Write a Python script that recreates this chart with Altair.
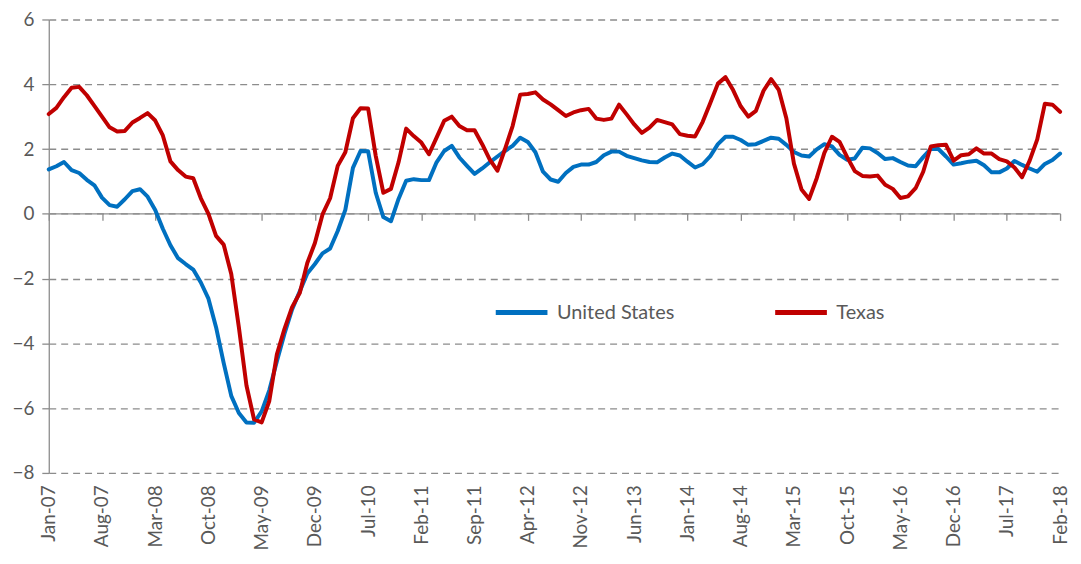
import altair as alt
import pandas as pd

tick_labels = ["Jan-07", "Aug-07", "Mar-08", "Oct-08", "May-09", "Dec-09", "Jul-10",
               "Feb-11", "Sep-11", "Apr-12", "Nov-12", "Jun-13", "Jan-14", "Aug-14",
               "Mar-15", "Oct-15", "May-16", "Dec-16", "Jul-17", "Feb-18"]

series_names = ["United States", "Texas"]

us = [1.37, 1.47, 1.60, 1.35, 1.26, 1.05, 0.88, 0.50, 0.27, 0.22,
      0.45, 0.70, 0.76, 0.53, 0.12, -0.46, -0.97, -1.37, -1.55, -1.72,
      -2.12, -2.62, -3.50, -4.60, -5.62, -6.15, -6.44, -6.45, -6.10, -5.45,
      -4.55, -3.70, -2.95, -2.40, -1.84, -1.55, -1.22, -1.07, -0.53, 0.12,
      1.42, 1.94, 1.93, 0.65, -0.10, -0.23, 0.46, 1.02, 1.07, 1.04,
      1.04, 1.59, 1.94, 2.10, 1.74, 1.48, 1.23, 1.40, 1.59, 1.77,
      1.94, 2.10, 2.35, 2.22, 1.90, 1.30, 1.06, 0.99, 1.26, 1.45,
      1.52, 1.52, 1.60, 1.81, 1.92, 1.92, 1.79, 1.72, 1.65, 1.60,
      1.59, 1.74, 1.86, 1.80, 1.61, 1.43, 1.53, 1.78, 2.15, 2.38,
      2.38, 2.28, 2.13, 2.15, 2.25, 2.35, 2.32, 2.13, 1.91, 1.80,
      1.77, 1.99, 2.15, 2.08, 1.82, 1.67, 1.71, 2.04, 2.02, 1.88,
      1.69, 1.72, 1.60, 1.49, 1.47, 1.75, 2.01, 2.00, 1.77, 1.52,
      1.56, 1.61, 1.64, 1.50, 1.28, 1.28, 1.40, 1.63, 1.51, 1.40,
      1.30, 1.54, 1.66, 1.86]

tx = [3.08, 3.27, 3.60, 3.89, 3.92, 3.66, 3.33, 3.00, 2.67, 2.54,
      2.56, 2.82, 2.96, 3.11, 2.88, 2.42, 1.62, 1.35, 1.15, 1.10,
      0.48, 0.00, -0.68, -0.95, -1.86, -3.50, -5.30, -6.35, -6.44, -5.78,
      -4.34, -3.55, -2.88, -2.45, -1.52, -0.90, -0.02, 0.48, 1.48, 1.90,
      2.95, 3.26, 3.25, 1.79, 0.65, 0.77, 1.59, 2.63, 2.40, 2.20,
      1.84, 2.35, 2.87, 3.00, 2.71, 2.58, 2.58, 2.15, 1.67, 1.33,
      2.00, 2.71, 3.68, 3.70, 3.75, 3.53, 3.38, 3.20, 3.02, 3.13,
      3.20, 3.24, 2.94, 2.90, 2.94, 3.37, 3.07, 2.76, 2.50, 2.66,
      2.90, 2.83, 2.76, 2.46, 2.41, 2.39, 2.84, 3.42, 4.02, 4.22,
      3.82, 3.32, 3.00, 3.18, 3.80, 4.16, 3.83, 2.95, 1.55, 0.75,
      0.46, 1.10, 1.88, 2.38, 2.22, 1.75, 1.32, 1.17, 1.15, 1.18,
      0.90, 0.77, 0.49, 0.54, 0.79, 1.30, 2.08, 2.12, 2.13, 1.64,
      1.81, 1.84, 2.02, 1.86, 1.86, 1.69, 1.62, 1.43, 1.13, 1.64,
      2.30, 3.40, 3.37, 3.15]

n = len(us)
months = list(range(n))
df = pd.DataFrame({
    "m": months * 2,
    "v": us + tx,
    "s": [series_names[0]] * n + [series_names[1]] * n,
})

W, H = 1017, 456
FONT = "Lato"
GRAY = "#8c8c8c"
TXT = "#595959"
tick_vals = list(range(0, n, 7))
label_expr = "[" + ",".join("'%s'" % t for t in tick_labels) + "][round(datum.value/7)]"
zero_offset = -round(H * 8 / 14)

x_scale = alt.Scale(domain=[0, n - 1], nice=False, zero=False)
y_scale = alt.Scale(domain=[-8, 6], nice=False)

y_axis = alt.Axis(
    values=list(range(-8, 7, 2)), grid=True, gridDash=[7, 5], gridColor=GRAY,
    gridWidth=1.3, domainColor=GRAY, domainWidth=1.3, tickColor=GRAY, tickWidth=1.3,
    tickSize=7, labelFontSize=19, labelFont=FONT, labelColor=TXT, labelPadding=8,
    labelBound=False, title=None)

zero_axis = alt.Chart(df).mark_point(opacity=0).encode(
    x=alt.X("m:Q", scale=x_scale, axis=alt.Axis(
        orient="bottom", offset=zero_offset, values=tick_vals, labels=False, ticks=True,
        tickSize=7, tickColor=GRAY, tickWidth=1.3, domain=True, domainColor=GRAY,
        domainWidth=1.3, grid=False, title=None)),
    y=alt.Y("v:Q", scale=y_scale, axis=y_axis),
)

lines = alt.Chart(df).mark_line(strokeWidth=4, strokeJoin="round", strokeCap="round").encode(
    x=alt.X("m:Q", scale=x_scale, axis=alt.Axis(
        orient="bottom", values=tick_vals, labelExpr=label_expr, labelAngle=270,
        labelAlign="right", labelBaseline="middle", ticks=False, domain=False,
        grid=False, title=None, labelFontSize=19, labelFont=FONT, labelColor=TXT,
        labelPadding=12, labelOverlap=False, labelBound=False)),
    y=alt.Y("v:Q", scale=y_scale, axis=y_axis),
    color=alt.Color("s:N", sort=series_names,
                    scale=alt.Scale(domain=series_names, range=["#0070C0", "#C00000"]),
                    legend=alt.Legend(orient="none", legendX=447, legendY=266,
                                      direction="horizontal", title=None,
                                      symbolType="stroke", symbolSize=2704,
                                      symbolStrokeWidth=5, labelFontSize=20,
                                      labelFont=FONT, labelColor=TXT, labelOffset=7,
                                      columnPadding=90)),
)

chart = alt.layer(zero_axis, lines).resolve_axis(x="independent").properties(
    width=W, height=H,
    autosize=alt.AutoSizeParams(type="none"),
    padding={"left": 41, "top": 10, "right": 13, "bottom": 84},
    background="white",
).configure_view(stroke=None)

chart.save("out.html", embed_options={"renderer": "svg", "actions": False})
